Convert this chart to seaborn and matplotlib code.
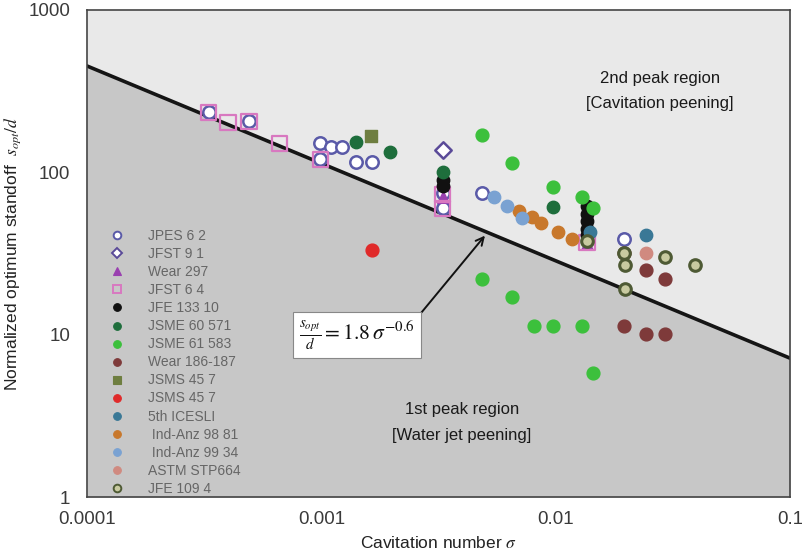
import numpy as np
import pandas as pd
import matplotlib
matplotlib.use("Agg")
import matplotlib.pyplot as plt
import seaborn as sns
from matplotlib.lines import Line2D

sns.set_theme(style="white")
plt.rcParams['font.family'] = ['Liberation Sans', 'DejaVu Sans']
plt.rcParams['mathtext.fontset'] = 'stix'

# ---------------- data ----------------
jpes_x = [3.31e-4, 4.91e-4, 9.9e-4, 1.10e-3, 1.22e-3, 9.9e-4, 1.40e-3, 1.64e-3, 3.3e-3, 3.3e-3, 4.83e-3, 1.95e-2]
jpes_y = [234, 206, 151, 143, 143, 120, 115, 115, 75, 60, 75, 39]
jfst91_x = [3.3e-3]
jfst91_y = [137]
wear297_x = [3.3e-3, 3.3e-3, 1.36e-2, 1.36e-2]
wear297_y = [85, 70, 40, 36]
jfst64_x = [3.31e-4, 4.0e-4, 4.91e-4, 6.65e-4, 9.9e-4, 3.3e-3, 3.3e-3, 1.36e-2]
jfst64_y = [234, 203, 206, 151, 120, 73, 60, 37]
jfe133_x = [3.3e-3, 3.3e-3, 1.36e-2, 1.36e-2, 1.36e-2, 1.36e-2, 1.36e-2]
jfe133_y = [90, 82, 62, 55, 50, 45, 41]
jsme60_x = [1.40e-3, 1.96e-3, 3.3e-3, 9.7e-3]
jsme60_y = [153, 133, 100, 61]
jsme61_x = [4.83e-3, 6.5e-3, 9.7e-3, 1.29e-2, 1.45e-2, 4.83e-3, 6.5e-3, 8.05e-3, 9.7e-3, 1.29e-2, 1.45e-2]
jsme61_y = [171, 114, 81, 70, 60, 22, 17, 11.3, 11.3, 11.3, 5.8]
wear186_x = [1.95e-2, 2.44e-2, 2.92e-2, 2.44e-2, 2.92e-2, 1.95e-2]
wear186_y = [11.3, 10.1, 10.1, 25, 22, 32]
jsms_sq_x = [1.63e-3]
jsms_sq_y = [167]
jsms_red_x = [1.64e-3]
jsms_red_y = [33]
icesli_x = [2.44e-2, 1.40e-2]
icesli_y = [41, 43]
ind98_x = [7.0e-3, 7.9e-3, 8.7e-3, 1.02e-2, 1.17e-2]
ind98_y = [58, 53, 49, 43, 39]
ind99_x = [5.44e-3, 6.18e-3, 7.16e-3]
ind99_y = [70, 62, 52]
astm_x = [2.44e-2]
astm_y = [32]
jfe109_x = [1.95e-2, 1.97e-2, 2.92e-2, 3.92e-2, 1.97e-2, 1.36e-2]
jfe109_y = [32, 27, 30, 27, 19, 38]

# fit line  s_opt/d = 1.8 sigma^-0.6
fit_coef = 1.8
fit_exp = -0.6

series = [
    # label, x, y, marker, face, edge, size, lw
    ("JPES 6 2", jpes_x, jpes_y, "o", "white", "#5a5aa8", 80, 1.8),
    ("JFST 9 1", jfst91_x, jfst91_y, "D", "white", "#5a4a98", 70, 1.8),
    ("Wear 297", wear297_x, wear297_y, "^", "#9a40b0", "#9a40b0", 70, 1.0),
    ("JFST 6 4", jfst64_x, jfst64_y, "s", "none", "#d878c0", 120, 1.6),
    ("JFE 133 10", jfe133_x, jfe133_y, "o", "#111111", "#111111", 80, 1.0),
    ("JSME 60 571", jsme60_x, jsme60_y, "o", "#1e6e3c", "#1e6e3c", 80, 1.0),
    ("JSME 61 583", jsme61_x, jsme61_y, "o", "#3cc03c", "#3cc03c", 85, 1.0),
    ("Wear 186-187", wear186_x, wear186_y, "o", "#7e3a3a", "#7e3a3a", 85, 1.0),
    ("JSMS 45 7", jsms_sq_x, jsms_sq_y, "s", "#6e7e40", "#6e7e40", 85, 1.0),
    ("JSMS 45 7", jsms_red_x, jsms_red_y, "o", "#e02a2a", "#e02a2a", 85, 1.0),
    ("5th ICESLI", icesli_x, icesli_y, "o", "#3a7896", "#3a7896", 80, 1.0),
    (" Ind-Anz 98 81", ind98_x, ind98_y, "o", "#c8782c", "#c8782c", 80, 1.0),
    (" Ind-Anz 99 34", ind99_x, ind99_y, "o", "#7aa2d2", "#7aa2d2", 80, 1.0),
    ("ASTM STP664", astm_x, astm_y, "o", "#d08a80", "#d08a80", 80, 1.0),
    ("JFE 109 4", jfe109_x, jfe109_y, "o", "#c8caa0", "#4e5a34", 70, 2.2),
]

fig = plt.figure(figsize=(8.03, 5.54), dpi=100)
ax = fig.add_axes([87/803, 1 - 497/554, 703/803, 487/554])

xmin, xmax, ymin, ymax = 1e-4, 0.1, 1, 1000
xs = np.logspace(-4, -1, 200)
ys = fit_coef * xs ** fit_exp
ax.fill_between(xs, ys, ymax, color="#e9e9e9", lw=0, zorder=0)
ax.fill_between(xs, ymin, ys, color="#c7c7c7", lw=0, zorder=0)
sns.lineplot(x=xs, y=ys, ax=ax, color="#151515", lw=2.6, zorder=2)

handles = []
for label, x, y, m, fc, ec, s, lw in series:
    sns.scatterplot(x=x, y=y, ax=ax, marker=m, s=s, color=fc if fc != "none" else ec,
                    facecolor=fc, edgecolor=ec, linewidth=lw, zorder=3, legend=False)
    handles.append(Line2D([], [], marker=m, linestyle="none", markersize=5.5 if m != "s" else 6,
                          markerfacecolor=fc if fc != "none" else "none", markeredgecolor=ec,
                          markeredgewidth=1.4 if lw > 1.5 else 0.8, label=label))

ax.set_xscale("log")
ax.set_yscale("log")
ax.set_xlim(xmin, xmax)
ax.set_ylim(ymin, ymax)
ax.set_xticks([1e-4, 1e-3, 1e-2, 1e-1])
ax.set_xticklabels(["0.0001", "0.001", "0.01", "0.1"])
ax.set_yticks([1, 10, 100, 1000])
ax.set_yticklabels(["1", "10", "100", "1000"])
ax.tick_params(axis="both", which="major", direction="in", length=6, width=1, labelsize=13.5,
               colors="#555555")
ax.tick_params(axis="x", which="major", pad=10)
ax.tick_params(axis="y", which="major", pad=12)
ax.tick_params(axis="both", which="minor", direction="in", length=3.5, width=0.8, colors="#555555")
for t in ax.get_xticklabels() + ax.get_yticklabels():
    t.set_color("#3a3a3a")
for sp in ax.spines.values():
    sp.set_color("#444444")
    sp.set_linewidth(1.2)

ax.set_xlabel(r"Cavitation number $\sigma$", fontsize=12.5, color="#222222", labelpad=5)
ax.set_ylabel(r"Normalized optimum standoff  $s_{opt}/d$", fontsize=12.5, color="#222222", labelpad=4)

ax.text(0.815, 0.860, "2nd peak region", transform=ax.transAxes, ha="center", va="center",
        fontsize=12, color="#1a1a1a")
ax.text(0.815, 0.809, "[Cavitation peening]", transform=ax.transAxes, ha="center", va="center",
        fontsize=12, color="#1a1a1a")
ax.text(0.533, 0.179, "1st peak region", transform=ax.transAxes, ha="center", va="center",
        fontsize=12, color="#1a1a1a")
ax.text(0.533, 0.127, "[Water jet peening]", transform=ax.transAxes, ha="center", va="center",
        fontsize=12, color="#1a1a1a")

ax.annotate("", xy=(5.08e-3, 42), xytext=(2.55e-3, 12.6),
            arrowprops=dict(arrowstyle="->", color="#111111", lw=1.4, mutation_scale=14), zorder=4)
ax.text(0.384, 0.333, r"$\frac{s_{opt}}{d}=1.8\,\sigma^{-0.6}$", transform=ax.transAxes,
        ha="center", va="center", fontsize=15.5, color="#111111", zorder=5,
        bbox=dict(boxstyle="square,pad=0.3", facecolor="white", edgecolor="#888888", lw=0.8))

leg = ax.legend(handles=handles, loc="lower left", bbox_to_anchor=(0.015, -0.02), frameon=False,
                fontsize=10, labelspacing=0.29, handletextpad=1.6, handlelength=1.2,
                borderpad=0.3)
for t in leg.get_texts():
    t.set_color("#666666")

fig.savefig("out.png", dpi=100)
